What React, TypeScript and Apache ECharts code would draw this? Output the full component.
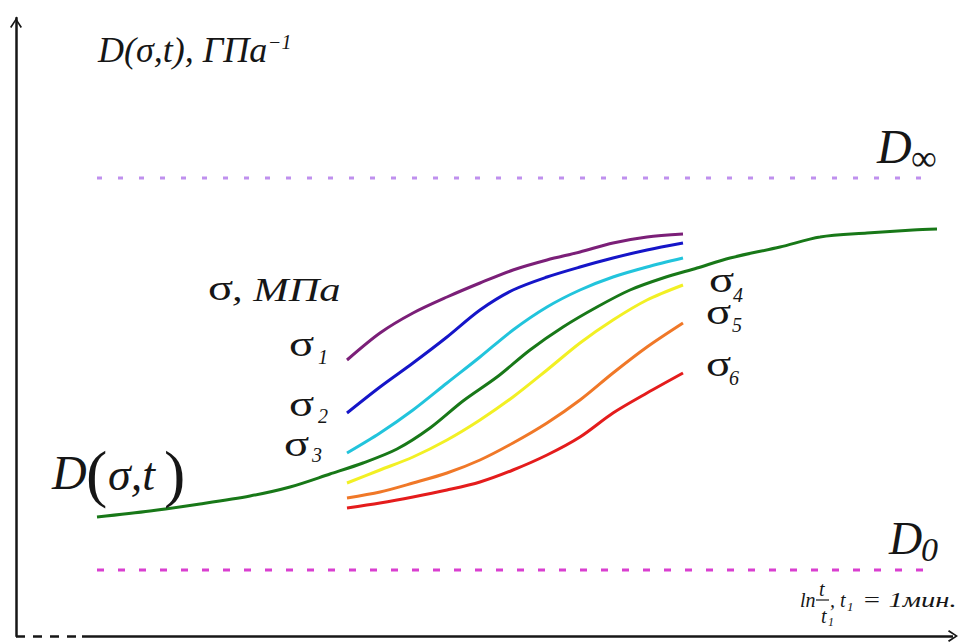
import React, { useEffect, useRef } from "react";
import * as echarts from "echarts";

// x in units of ln(t/t1) (arbitrary scale), y in units of D (arbitrary scale)
const xColored = [33.1, 36.4, 39.7, 43.1, 46.4, 49.7, 53.1, 56.4, 59.7, 63.1, 66.7];
const sigma1 = [27.6, 30.3, 32.3, 33.9, 35.3, 36.6, 37.6, 38.4, 39.3, 39.9, 40.2];
const sigma2 = [22.3, 24.9, 27.3, 29.9, 32.6, 34.6, 35.9, 36.9, 37.8, 38.6, 39.3];
const sigma3 = [18.3, 20.3, 22.6, 25.3, 27.9, 30.6, 32.9, 34.6, 35.9, 36.9, 37.8];
const sigma4 = [15.3, 16.6, 17.9, 19.6, 21.6, 23.9, 26.6, 29.3, 31.6, 33.6, 35.1];
const sigma5 = [13.8, 14.4, 15.3, 16.3, 17.6, 19.3, 21.3, 23.6, 26.3, 28.9, 31.3];
const sigma6 = [12.8, 13.3, 13.9, 14.6, 15.4, 16.6, 18.1, 19.9, 22.3, 24.3, 26.3];

const xMaster = [8.1, 13.4, 18.4, 23.4, 27.4, 31.4, 34.7, 38.1, 41.4, 44.7, 48.1, 51.4, 54.7, 58.1, 61.4, 64.7, 68.1, 71.4, 76.4, 80.4, 85.1, 89.7, 92.1];
const dMaster = [11.9, 12.5, 13.2, 14.0, 14.9, 16.2, 17.3, 18.7, 20.8, 23.5, 25.9, 28.6, 30.9, 32.9, 34.6, 35.8, 36.8, 37.8, 38.9, 39.9, 40.3, 40.6, 40.7];

const dInfinity = 45.8;
const dZero = 6.6;
const boundRange = [8.1, 92.1];

const X_MAX = 94.2;
const Y_MAX = 61.8;
const X_DASH_END = 6.6;
const X_ARROW_END = 93.7;

const colors = {
  s1: "#7b1f78",
  s2: "#1515c8",
  s3: "#22c4dc",
  s4: "#f2f024",
  s5: "#f07828",
  s6: "#e41c1c",
  master: "#187818",
  inf: "#bf90ee",
  zero: "#d93fd0",
  ink: "#161616",
};

const SERIF = "'Liberation Serif', 'DejaVu Serif', serif";
const ARROW = "path://M6,0 L12,9 L10.6,10 L6,2.8 L1.4,10 L0,9 Z";

function zip(xs: number[], ys: number[]) {
  return xs.map((x, i) => [x, ys[i]]);
}

function txt(text: string, x: number, y: number, size: number, italic = true, sx = 1) {
  return {
    type: "text",
    x,
    y,
    z: 100,
    scaleX: sx,
    style: {
      text,
      fill: colors.ink,
      font: `${italic ? "italic " : ""}${size}px ${SERIF}`,
      verticalAlign: "middle",
      align: "left",
    },
  };
}

export default function App() {
  const ref = useRef<HTMLDivElement>(null);
  useEffect(() => {
    const chart = echarts.init(ref.current!, undefined, { renderer: "svg" });
    const curve = (name: string, xs: number[], ys: number[], color: string) => ({
      name,
      type: "line",
      data: zip(xs, ys),
      showSymbol: false,
      symbol: "none",
      smooth: 0.3,
      lineStyle: { color, width: 3 },
      z: 5,
    });
    const level = (name: string, y: number, color: string, dash: number[]) => ({
      name,
      type: "line",
      data: [
        [boundRange[0], y],
        [boundRange[1], y],
      ],
      showSymbol: false,
      symbol: "none",
      lineStyle: { color, width: 3, type: dash },
      z: 3,
    });
    const option: any = {
      animation: false,
      backgroundColor: "#ffffff",
      grid: { left: 16, right: 4, top: 18, bottom: 7, containLabel: false },
      xAxis: {
        type: "value",
        min: 0,
        max: X_MAX,
        axisLine: { show: false },
        axisTick: { show: false },
        axisLabel: { show: false },
        splitLine: { show: false },
      },
      yAxis: {
        type: "value",
        min: 0,
        max: Y_MAX,
        axisLine: {
          show: true,
          symbol: ["none", ARROW],
          symbolSize: [12, 10],
          symbolOffset: [0, -5],
          lineStyle: { color: colors.ink, width: 2.5 },
        },
        axisTick: { show: false },
        axisLabel: { show: false },
        splitLine: { show: false },
      },
      series: [
        level("D∞", dInfinity, colors.inf, [5, 16]),
        level("D0", dZero, colors.zero, [7, 14]),
        curve("σ1", xColored, sigma1, colors.s1),
        curve("σ2", xColored, sigma2, colors.s2),
        curve("σ3", xColored, sigma3, colors.s3),
        curve("σ4", xColored, sigma4, colors.s4),
        curve("σ5", xColored, sigma5, colors.s5),
        curve("σ6", xColored, sigma6, colors.s6),
        curve("D(σ,t)", xMaster, dMaster, colors.master),
        {
          name: "axis",
          type: "line",
          data: [],
          z: 10,
          markLine: {
            silent: true,
            animation: false,
            label: { show: false },
            symbol: "none",
            data: [
              [
                { coord: [0, 0], symbol: "none", lineStyle: { color: colors.ink, width: 2.5, type: [9, 8] } },
                { coord: [X_DASH_END, 0], symbol: "none", lineStyle: { color: colors.ink, width: 2.5, type: [9, 8] } },
              ],
              [
                { coord: [X_DASH_END, 0], symbol: "none", lineStyle: { color: colors.ink, width: 2.5, type: "solid" } },
                { coord: [X_ARROW_END, 0], symbol: ARROW, symbolSize: [12, 10], lineStyle: { color: colors.ink, width: 2.5, type: "solid" } },
              ],
            ],
          },
        },
      ],
      graphic: [
        // y-axis title
        txt("D(σ,t), ГПа", 98, 50, 35, true, 1.03),
        txt("−1", 268, 42, 20),
        // D infinity
        txt("D", 877, 146, 48),
        txt("∞", 911, 158, 36, false),
        // D zero
        txt("D", 889, 538, 46),
        txt("0", 921, 549, 34),
        // x-axis title
        txt("ln", 800, 600, 20),
        txt("t", 819, 589, 20),
        { type: "line", z: 100, shape: { x1: 816, y1: 600, x2: 829, y2: 600 }, style: { stroke: colors.ink, lineWidth: 1.2 } },
        txt("t", 821, 616, 20),
        txt("1", 828, 622, 12),
        txt(", t", 830, 600, 20),
        txt("1", 847, 606, 13),
        txt("= 1мин.", 862, 600, 22, true, 1.3),
        // stress legend
        txt("σ", 208, 288, 36, false, 1.3),
        txt(", МПа", 232, 290, 34, true, 1.25),
        txt("σ", 289, 344, 36, false, 1.3),
        txt("1", 318, 357, 20),
        txt("σ", 289, 404, 36, false, 1.3),
        txt("2", 318, 416, 20),
        txt("σ", 284, 444, 36, false, 1.3),
        txt("3", 312, 455, 20),
        txt("σ", 709, 280, 36, false, 1.3),
        txt("4", 733, 295, 20),
        txt("σ", 706, 312, 36, false, 1.3),
        txt("5", 732, 325, 20),
        txt("σ", 706, 364, 36, false, 1.3),
        txt("6", 729, 378, 20),
        // D(σ,t) label
        txt("D", 52, 472, 48),
        txt("(", 86, 473, 64, false),
        txt("σ,t", 108, 474, 46),
        txt(")", 164, 473, 64, false),
      ],
    };
    chart.setOption(option);
    return () => chart.dispose();
  }, []);
  return (
    <div
      ref={ref}
      style={{ position: "fixed", left: 0, top: 0, width: 962, height: 643, background: "#fff" }}
    />
  );
}
